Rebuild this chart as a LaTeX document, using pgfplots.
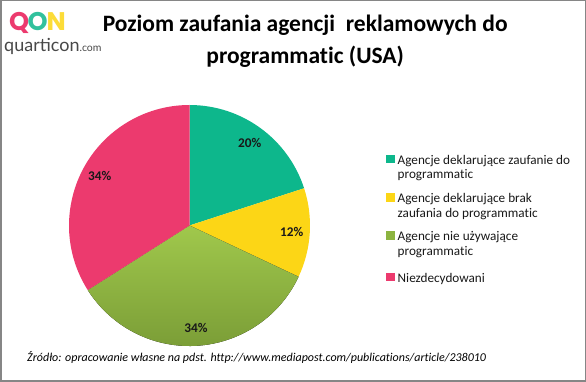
\documentclass[border=0pt]{standalone}
\usepackage{pgfplots}
\pgfplotsset{compat=1.18}
\usepackage{pgfplotstable}
\usepackage{fontspec}
\setmainfont{Carlito}[Ligatures={NoCommon}]
\newfontfamily\logofont{Poppins}
\newfontfamily\logotext{Lato}
\definecolor{cteal}{RGB}{13,183,140}
\definecolor{cyellow}{RGB}{252,214,22}
\definecolor{cgreenT}{RGB}{160,200,76}
\definecolor{cgreenB}{RGB}{118,152,52}
\definecolor{cgreen}{RGB}{140,180,64}
\definecolor{cpink}{RGB}{236,58,110}
\definecolor{framegray}{RGB}{134,134,134}
\definecolor{logogray}{RGB}{72,72,72}

\pgfplotstableread{
share
20
12
34
34
}\piedata

\tikzset{
  slice0/.style={fill=cteal},
  slice1/.style={fill=cyellow},
  slice2/.style={top color=cgreenT, bottom color=cgreenB},
  slice3/.style={fill=cpink},
}

\begin{document}
\begin{tikzpicture}[x=1pt,y=1pt]
\useasboundingbox (0,0) rectangle (586,382);
\fill[white] (0,0) rectangle (586,382);
\draw[framegray, line width=1.5pt] (0.75,0.75) rectangle (585.25,381.25);
% logo
\node[anchor=base west, inner sep=0pt, text=cpink, font=\logofont\bfseries\fontsize{25.5}{27}\selectfont] at (9,351.3) {Q};
\node[anchor=base west, inner sep=0pt, text=cteal, text opacity=0.85, font=\logofont\bfseries\fontsize{25.5}{27}\selectfont] at (27.5,351.3) {O};
\node[anchor=base west, inner sep=0pt, text=cyellow, text opacity=0.85, font=\logofont\bfseries\fontsize{25.5}{27}\selectfont] at (46.5,351.3) {N};
\node[anchor=base west, inner sep=0pt, text=logogray, font=\logotext\fontsize{18}{20}\selectfont] at (4,330.3) {quarticon{\fontsize{10.5}{12}\selectfont.com}};
% title
\node[anchor=base, inner sep=0pt, font=\bfseries\fontsize{23.5}{26}\selectfont] at (305.2,350.3) {Poziom zaufania agencji\ \ reklamowych do};
\node[anchor=base, inner sep=0pt, font=\bfseries\fontsize{23.5}{26}\selectfont] at (305.2,318.7) {programmatic (USA)};
% source
\node[anchor=base west, inner sep=0pt, font=\itshape\fontsize{12}{14}\selectfont] at (27,20) {Źródło: opracowanie własne na pdst. http://www.mediapost.com/publications/article/238010};
\begin{axis}[
  at={(189.5pt,156.5pt)}, anchor=center,
  scale only axis, width=241pt, height=241pt,
  xmin=-1, xmax=1, ymin=-1, ymax=1,
  hide axis, clip=false,
  legend style={at={(axis cs:1.6307,0.5930)}, anchor=north west, draw=none, fill=none,
     inner sep=0pt, outer sep=0pt, row sep=0pt, column sep=3.6pt,
     font=\fontsize{13.2}{14.3}\selectfont,
     cells={anchor=base west},
     nodes={inner sep=0pt, text=black!90, text height=10pt, text depth=4.3pt}},
]
\addlegendimage{legend image code/.code={\fill[cteal] (0pt,1.5pt) rectangle (7.7pt,9.2pt);}}
\addlegendentry[text height=10pt, text depth=4.3pt]{Agencje deklarujące zaufanie do}
\addlegendimage{empty legend}
\addlegendentry[text height=10pt, text depth=14.4pt]{programmatic}
\addlegendimage{legend image code/.code={\fill[cyellow] (0pt,1.5pt) rectangle (7.7pt,9.2pt);}}
\addlegendentry[text height=10pt, text depth=4.3pt]{Agencje deklarujące brak}
\addlegendimage{empty legend}
\addlegendentry[text height=10pt, text depth=13.5pt]{zaufania do programmatic}
\addlegendimage{legend image code/.code={\fill[cgreen] (0pt,1.5pt) rectangle (7.7pt,9.2pt);}}
\addlegendentry[text height=10pt, text depth=4.5pt]{Agencje nie używające}
\addlegendimage{empty legend}
\addlegendentry[text height=10pt, text depth=17pt]{programmatic}
\addlegendimage{legend image code/.code={\fill[cpink] (0pt,1.5pt) rectangle (7.7pt,9.2pt);}}
\addlegendentry[text height=10pt, text depth=4pt]{Niezdecydowani}
\pgfplotsextra{%
  \gdef\cum{0}%
  \foreach \i in {0,1,2,3}{%
    \pgfplotstablegetelem{\i}{share}\of\piedata
    \let\sv\pgfplotsretval
    \pgfmathsetmacro\sa{90-3.6*\cum}%
    \pgfmathsetmacro\sb{90-3.6*(\cum+\sv)}%
    \pgfmathsetmacro\sm{(\sa+\sb)/2}%
    \fill[slice\i] (axis cs:0,0) -- (axis cs:{cos(\sa)},{sin(\sa)}) arc[start angle=\sa, end angle=\sb, radius=1] -- cycle;
    \node[font=\bfseries\fontsize{13.3}{16}\selectfont, text=black!90] at (axis cs:{0.85*cos(\sm)},{0.85*sin(\sm)}) {\sv\%};
    \pgfmathsetmacro\newcum{\cum+\sv}%
    \global\let\cum\newcum
  }%
}
\end{axis}
\end{tikzpicture}
\end{document}
